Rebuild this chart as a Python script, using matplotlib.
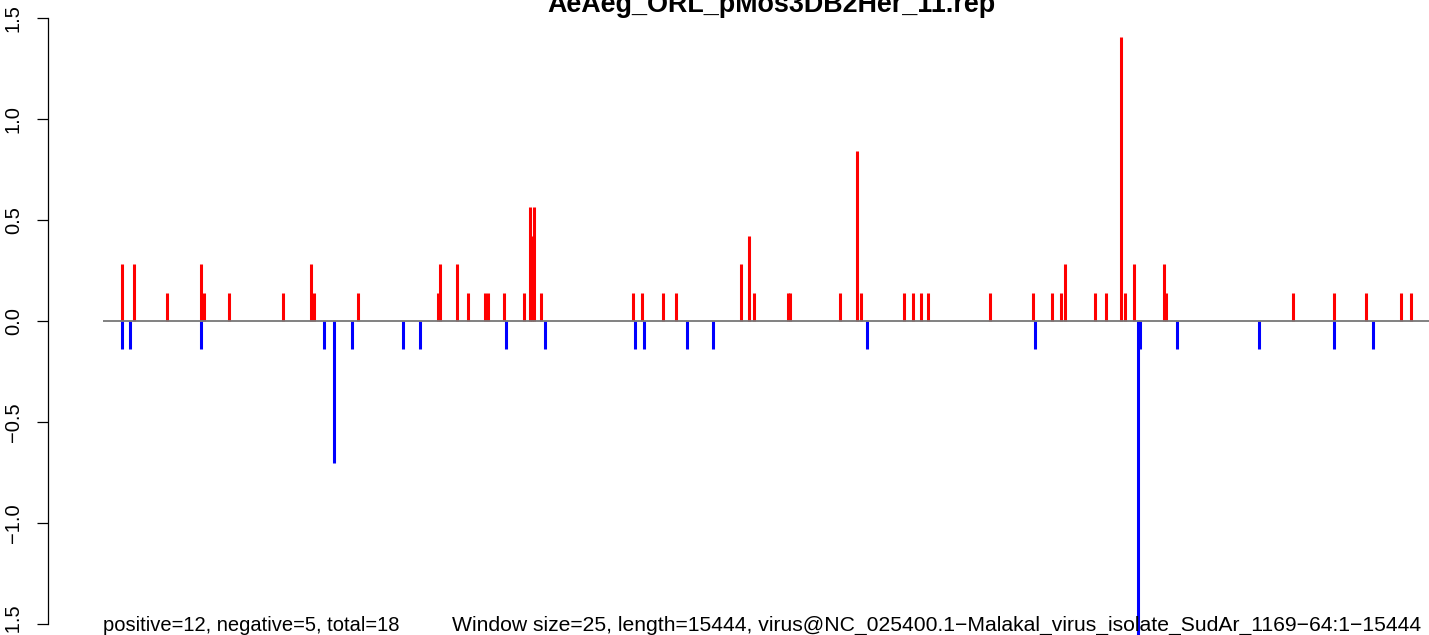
import matplotlib
matplotlib.use("Agg")
import matplotlib.pyplot as plt

plt.rcParams['font.family'] = ['Liberation Sans', 'DejaVu Sans']

genome_len = 15444

# positive (sense) hits: position, value
pos_x = [217, 352, 722, 1104, 1131, 1419, 2025, 2340, 2367, 2868,
         3763, 3789, 3980, 4103, 4294, 4321, 4507, 4732, 4799, 4822,
         4844, 4923, 5956, 6057, 6293, 6439, 7169, 7259, 7315, 7697,
         7720, 8281, 8472, 8517, 9000, 9101, 9191, 9270, 9966, 10449,
         10662, 10764, 10808, 11146, 11269, 11438, 11483, 11584, 11921, 11943,
         13370, 13830, 14190, 14583, 14695]
pos_y = [0.281, 0.281, 0.140, 0.281, 0.140, 0.140, 0.140, 0.281, 0.140, 0.140,
         0.140, 0.281, 0.281, 0.140, 0.140, 0.140, 0.140, 0.140, 0.562, 0.421,
         0.562, 0.140, 0.140, 0.140, 0.140, 0.140, 0.281, 0.421, 0.140, 0.140,
         0.140, 0.140, 0.842, 0.140, 0.140, 0.140, 0.140, 0.140, 0.140, 0.140,
         0.140, 0.140, 0.281, 0.140, 0.140, 1.404, 0.140, 0.281, 0.281, 0.140,
         0.140, 0.140, 0.140, 0.140, 0.140]

# negative (antisense) hits
neg_x = [217, 307, 1104, 2486, 2598, 2800, 3373, 3564, 4530, 4968,
         5979, 6080, 6563, 6855, 8585, 10472, 11629, 11651, 12067, 12988,
         13830, 14268]
neg_y = [-0.140, -0.140, -0.140, -0.140, -0.702, -0.140, -0.140, -0.140, -0.140, -0.140,
         -0.140, -0.140, -0.140, -0.140, -0.140, -0.140, -1.685, -0.140, -0.140, -0.140,
         -0.140, -0.140]

yticks = [-1.5, -1.0, -0.5, 0.0, 0.5, 1.0, 1.5]
title = "AeAeg_ORL_pMos3DB2Her_11.rep"
left_note = "positive=12, negative=5, total=18"
right_note = "Window size=25, length=15444, virus@NC_025400.1\u2212Malakal_virus_isolate_SudAr_1169\u221264:1\u221215444"

W, H = 1429, 635
fig = plt.figure(figsize=(W / 100, H / 100), dpi=100)

# plot region: starts at x=48px, R-style 4% padding, runs off the right edge
ax_left, ax_top = 48, 18
span = genome_len * 1.08
px_per = (1533 - ax_left) / span
xmin = -0.04 * genome_len
xmax = xmin + (W - ax_left) / px_per
ypx = 202.0
ymin = 1.5 - (H - ax_top) / ypx

ax = fig.add_axes([ax_left / W, 0, (W - ax_left) / W, (H - ax_top) / H])
ax.set_xlim(xmin, xmax)
ax.set_ylim(ymin, 1.5)

lw = 2.2
ax.vlines(pos_x, 0, pos_y, color='red', lw=lw)
ax.vlines(neg_x, 0, neg_y, color='blue', lw=lw)
ax.hlines(0, 0, genome_len, color='#777777', lw=1.3, zorder=3)

for s in ['top', 'right', 'bottom']:
    ax.spines[s].set_visible(False)
ax.spines['left'].set_bounds(-1.5, 1.5)
ax.spines['left'].set_linewidth(0.9)
ax.set_xticks([])
ax.set_yticks(yticks)
ax.set_yticklabels([f"{v:.1f}".replace('-', '\u2212') for v in yticks],
                   rotation=90, va='center', fontsize=14.5)
ax.tick_params(axis='y', length=8, width=0.9, pad=10)

fig.text(771 / W, 1 - 12 / H, title, ha='center', va='baseline',
         fontsize=19.4, fontweight='bold')
fig.text(103 / W, 1 - 631 / H, left_note, ha='left', va='baseline', fontsize=14.5)
fig.text(452 / W, 1 - 631 / H, right_note, ha='left', va='baseline', fontsize=15.2)

fig.savefig('out.png', dpi=100)
